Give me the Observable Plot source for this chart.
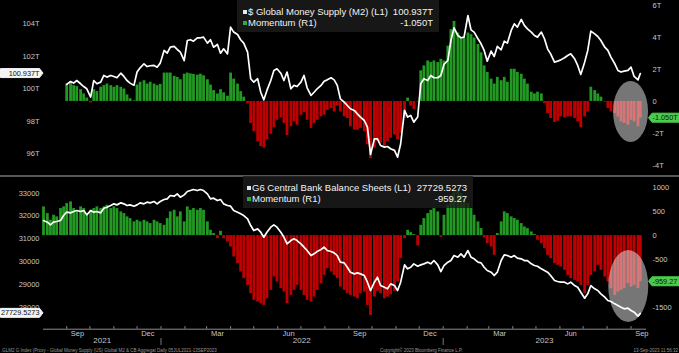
<!DOCTYPE html>
<html>
<head>
<meta charset="utf-8">
<script src="https://cdn.jsdelivr.net/npm/d3@7"></script>
<script src="https://cdn.jsdelivr.net/npm/@observablehq/plot@0.6"></script>
<style>
  html, body { margin: 0; padding: 0; background: #000; }
  #chart { position: relative; width: 679px; height: 353px; background: #000; overflow: hidden; font-family: "Liberation Sans", Arial, sans-serif; }
  #chart > svg { position: absolute; left: 0; }
  .legend { position: absolute; background: rgba(28,28,28,0.82); color: #f2f2f2; font-size: 9.5px; line-height: 11px; box-sizing: border-box; }
  .legend .row { display: flex; justify-content: space-between; white-space: nowrap; }
  .legend .sw { display: inline-block; width: 4px; height: 4px; margin-right: 1px; vertical-align: 1px; }
  .sep { position: absolute; left: 0; width: 679px; top: 175px; height: 1.5px; background: #585858; }
  .foot { position: absolute; top: 347.5px; font-size: 4.5px; line-height: 5px; color: #9a9a9a; white-space: nowrap; }
</style>
</head>
<body>
<div id="chart"></div>
<script>
// ---------------- data ----------------
const dates = [
"2021-08-02","2021-08-07","2021-08-11","2021-08-15","2021-08-19","2021-08-24","2021-08-28",
"2021-09-01","2021-09-06","2021-09-10","2021-09-14","2021-09-19","2021-09-23","2021-09-27",
"2021-10-02","2021-10-06","2021-10-10","2021-10-15","2021-10-19","2021-10-23","2021-10-28",
"2021-11-01","2021-11-05","2021-11-10","2021-11-14","2021-11-18","2021-11-22","2021-11-27",
"2021-12-01","2021-12-05","2021-12-10","2021-12-14","2021-12-18","2021-12-23","2021-12-27","2021-12-31",
"2022-01-05","2022-01-09","2022-01-13","2022-01-18","2022-01-22","2022-01-26","2022-01-31",
"2022-02-04","2022-02-08","2022-02-12","2022-02-17","2022-02-21","2022-02-25",
"2022-03-02","2022-03-06","2022-03-10","2022-03-15","2022-03-19","2022-03-23","2022-03-28",
"2022-04-01","2022-04-05","2022-04-10","2022-04-14","2022-04-18","2022-04-23","2022-04-27",
"2022-05-01","2022-05-06","2022-05-10","2022-05-14","2022-05-18","2022-05-23","2022-05-27","2022-05-31",
"2022-06-05","2022-06-09","2022-06-13","2022-06-18","2022-06-22","2022-06-26",
"2022-07-01","2022-07-05","2022-07-09","2022-07-14","2022-07-18","2022-07-22","2022-07-27","2022-07-31",
"2022-08-04","2022-08-09","2022-08-13","2022-08-17","2022-08-21","2022-08-26","2022-08-30",
"2022-09-03","2022-09-08","2022-09-12","2022-09-16","2022-09-21","2022-09-25","2022-09-29",
"2022-10-04","2022-10-08","2022-10-12","2022-10-17","2022-10-21","2022-10-25","2022-10-30",
"2022-11-03","2022-11-07","2022-11-12","2022-11-16","2022-11-20","2022-11-24","2022-11-29",
"2022-12-03","2022-12-07","2022-12-12","2022-12-16","2022-12-20","2022-12-25","2022-12-29",
"2023-01-02","2023-01-07","2023-01-11","2023-01-15","2023-01-20","2023-01-24","2023-01-28",
"2023-02-02","2023-02-06","2023-02-10","2023-02-15","2023-02-19","2023-02-23","2023-02-27",
"2023-03-04","2023-03-08","2023-03-12","2023-03-17","2023-03-21","2023-03-25","2023-03-30",
"2023-04-03","2023-04-07","2023-04-12","2023-04-16","2023-04-20","2023-04-25","2023-04-29",
"2023-05-03","2023-05-08","2023-05-12","2023-05-16","2023-05-20","2023-05-25","2023-05-29",
"2023-06-02","2023-06-07","2023-06-11","2023-06-15","2023-06-20","2023-06-24","2023-06-28",
"2023-07-03","2023-07-07","2023-07-11","2023-07-16","2023-07-20","2023-07-24","2023-07-29",
"2023-08-02","2023-08-06","2023-08-11","2023-08-15","2023-08-19","2023-08-23","2023-08-28",
"2023-09-01","2023-09-05","2023-09-10","2023-09-13"
];

// $ Global Money Supply (M2), trillions (L1)
const m2Supply = [
null,null,null,null,null,null,null,
100.27,100.45,100.35,100.51,100.31,100.14,100.00,99.49,100.51,100.31,
100.41,100.82,100.72,100.82,100.76,100.68,100.96,100.76,100.51,100.35,
100.21,101.03,101.29,101.54,101.37,101.42,101.44,101.33,101.58,102.36,
102.19,102.56,102.61,102.42,102.26,101.74,102.97,103.02,102.93,103.14,
103.14,103.18,102.81,103.02,102.56,102.73,102.19,102.46,102.15,103.79,
103.49,103.34,103.02,102.81,102.26,100.62,100.41,100.62,99.79,99.32,
99.90,100.51,101.13,101.23,100.96,100.51,101.03,100.00,100.21,100.14,
100.41,100.82,100.06,99.59,99.79,100.00,100.21,100.47,100.55,100.68,
100.55,100.21,
99.38,99.18,98.97,98.77,98.67,98.46,98.26,98.05,97.64,95.96,
96.92,96.92,96.51,96.41,96.45,96.31,96.21,95.79,96.62,98.67,
98.26,98.36,97.95,98.26,100.31,100.62,100.51,100.82,100.68,100.68,
100.82,101.50,101.74,102.97,103.75,103.28,103.14,103.18,104.51,103.63,
103.49,103.08,102.77,102.36,101.70,102.32,101.99,102.61,102.40,102.93,
102.81,103.59,104.00,103.79,104.27,103.90,103.69,103.49,103.28,103.18,
103.49,103.08,102.46,102.15,101.64,101.70,101.78,101.91,102.05,102.15,
101.85,101.44,100.88,101.64,102.36,103.55,103.38,103.22,102.97,102.56,
102.36,101.95,101.54,101.13,101.03,101.09,101.13,101.33,100.76,100.55,
100.937
];

// Momentum of M2, trillions (R1)
const m2Momentum = [
null,null,null,null,null,null,null,
1.09,1.20,0.99,0.93,0.74,0.47,0.21,-0.10,0.74,0.62,
0.89,0.99,1.09,0.99,0.89,0.99,0.89,0.78,0.41,0.17,
0.04,1.03,1.20,1.30,1.09,1.20,1.09,0.99,1.07,1.78,
1.78,1.78,1.57,1.51,1.36,1.71,1.78,1.73,1.69,1.65,
1.71,1.61,1.36,1.03,0.68,0.47,0.74,0.54,0.33,1.78,
1.40,1.09,0.62,0.27,-0.14,-1.38,-1.90,-2.52,-2.83,-2.93,
-2.41,-2.06,-1.65,-1.18,-1.03,-1.38,-2.15,-1.59,-1.28,-1.49,
-0.87,-0.70,-1.18,-1.69,-1.38,-1.18,-0.97,-0.87,-0.56,-0.45,
-0.66,-0.29,
-0.66,-0.97,-1.07,-1.59,-1.80,-1.80,-1.69,-1.90,-2.72,-3.59,
-2.93,-2.52,-2.62,-2.83,-2.52,-2.31,-2.11,-2.41,-2.00,-1.07,
0.21,-0.29,-0.50,-0.04,1.92,2.23,2.54,2.44,2.54,2.44,
2.64,2.54,3.47,4.50,5.02,4.29,3.98,3.98,4.29,4.19,
3.98,3.57,3.05,2.23,1.82,1.40,1.09,1.51,1.30,1.51,
1.20,2.02,2.02,1.82,1.71,1.40,1.09,0.58,0.47,0.58,
0.47,-0.14,-0.76,-1.07,-1.32,-1.24,-0.97,-1.03,-0.97,-0.97,
-1.07,-1.28,-1.65,-0.97,-0.66,0.89,0.68,0.47,0.27,-0.05,
-0.45,-0.66,-0.76,-0.97,-1.28,-1.38,-1.49,-1.18,-1.28,-1.59,
-1.050
];

// G6 Central Bank Balance Sheets (L1)
const g6Sheets = [
31801,31728,31611,31728,31757,31801,32021,32167,32137,32196,
32240,32196,32240,32050,32240,32167,32196,32137,32342,32386,
32459,32532,32488,32576,32532,32459,32488,32430,32488,32576,
32532,32605,32576,32634,32532,32634,32722,32752,32898,32868,
32971,32825,32927,33073,33117,33161,33117,33161,33117,32971,
32752,32781,32678,32722,32532,32459,32430,32240,32167,32094,
32021,31874,31582,31363,31436,31290,31070,31290,31509,31611,
31509,31290,31070,30778,30924,30997,30924,30778,30632,30485,
30266,30339,30442,30529,30632,30485,30442,30383,30266,
29974,29944,29754,29535,29462,29506,29462,29389,29097,28731,
29097,29316,28950,28877,28804,29023,28950,28731,29097,29857,
29681,29754,29901,29798,29857,29901,29974,29901,30047,29857,
29564,29828,29974,30047,30266,30193,30339,30193,30485,30193,
30120,29974,29944,29754,29608,29535,29389,29535,30047,30295,
30266,30193,30266,30149,30120,30047,30047,29901,29828,29798,
29681,29608,29535,29389,29170,29126,29097,29097,29023,29097,
28950,28877,28658,28395,28585,28950,28804,28731,28585,28439,
28292,28249,28146,28073,28000,27927,27956,27854,27781,27605,
27729.5273
];

// Momentum of G6 balance sheets (R1)
const g6Momentum = [
597,458,319,423,389,562,597,666,701,562,
493,597,562,423,527,562,597,562,597,632,
562,597,562,493,458,389,354,285,319,285,
319,285,250,319,285,250,215,354,493,527,
389,493,285,597,527,562,527,562,527,285,
111,42,-62,90,-62,-132,-236,-444,-583,-756,
-895,-1035,-1208,-1346,-1381,-1416,-1451,-1312,-1138,-861,
-965,-1103,-1173,-1416,-1242,-1138,-1035,-1138,-1242,-1346,
-1381,-1277,-1138,-999,-826,-687,-756,-826,-895,
-1069,-1138,-1208,-1242,-1277,-1312,-1208,-1173,-1451,-1659,
-1277,-1159,-1208,-1312,-1277,-1228,-1159,-965,-479,-62,
111,62,21,-215,215,354,458,527,562,493,
-35,423,632,840,909,944,874,770,666,562,
423,285,146,-49,-167,-236,-409,42,285,493,
458,389,354,319,250,180,146,76,21,-97,
-167,-271,-409,-479,-583,-618,-652,-722,-826,-895,
-930,-965,-1035,-1208,-1035,-826,-756,-618,-722,-861,
-965,-1103,-1242,-1173,-1138,-1103,-999,-1069,-1035,-1103,
-959.27
];

// tick labels
const m2Ticks = [96, 98, 100, 102, 104];
const m2MomTicks = [-4, -2, 0, 2, 4, 6];
const g6Ticks = [28000, 29000, 30000, 31000, 32000, 33000];
const g6MomTicks = [-1500, -500, 0, 500, 1000];
const monthLabels = ["2021-09-15","2021-12-15","2022-03-15","2022-06-15","2022-09-15","2022-12-15","2023-03-15","2023-06-15","2023-09-15"];
const yearLabels = [{date: "2021-10-17", label: "2021"}, {date: "2022-07-02", label: "2022"}, {date: "2023-05-12", label: "2023"}];
const yearStarts = ["2022-01-01", "2023-01-01"];

// highlighted regions (centre in data terms)
const topHighlight = {date: "2023-09-01", value: -0.66};
const bottomHighlight = {date: "2023-08-29", value: -1056};

// ---------------- drawing ----------------
const W = 679, ML = 43, MR = 33;
const xDomain = [new Date("2021-08-02"), new Date("2023-09-21")];
const axisColor = "#c6c6c6";
const green = "#229922", red = "#c00000", tagGreen = "#4ccc4c";
const font = '"Liberation Sans", Arial, sans-serif';

const rows = dates.map((d, i) => ({
  date: new Date(d), m2: m2Supply[i], m2Mom: m2Momentum[i], cb: g6Sheets[i], cbMom: g6Momentum[i]
}));

function base(height, mt, mb) {
  return {
    width: W, height, marginLeft: ML, marginRight: MR, marginTop: mt, marginBottom: mb,
    style: {background: "transparent", color: axisColor, fontFamily: font, fontSize: "7.5px", overflow: "visible"}
  };
}
function bars(key) {
  return [
    Plot.ruleX(rows.filter(d => d[key] != null && d[key] >= 0), {x: "date", y1: 0, y2: key, stroke: green, strokeWidth: 2.8}),
    Plot.ruleX(rows.filter(d => d[key] != null && d[key] < 0), {x: "date", y1: 0, y2: key, stroke: red, strokeWidth: 2.8})
  ];
}
function highlight(plot, h, rx, ry) {
  const cx = plot.scale("x").apply(new Date(h.date));
  const cy = plot.scale("y").apply(h.value);
  d3.select(plot).append("ellipse")
    .attr("cx", cx).attr("cy", cy).attr("rx", rx).attr("ry", ry)
    .attr("fill", "#ececec").attr("fill-opacity", 0.5);
}
function tag(plot, side, value, text, fill) {
  const y = plot.scale("y").apply(value);
  const h = 9, g = d3.select(plot).append("g");
  let d;
  if (side === "left") d = `M0.5,${y - h/2} H39.5 L43,${y} L39.5,${y + h/2} H0.5 Z`;
  else d = `M679,${y - h/2} H652 L648.5,${y} L652,${y + h/2} H679 Z`;
  g.append("path").attr("d", d).attr("fill", fill).attr("stroke", fill).attr("stroke-width", 1).attr("stroke-linejoin", "round");
  g.append("text").attr("x", side === "left" ? 39.5 : 652.5).attr("y", y)
    .attr("dy", "0.35em").attr("text-anchor", side === "left" ? "end" : "start")
    .attr("fill", "#111").attr("font-size", 7.3).attr("font-family", font).text(text);
}

const chart = document.getElementById("chart");

// ---- top panel ----
const topBars = Plot.plot({
  ...base(175, 5.3, 10.3),
  x: {type: "utc", domain: xDomain, axis: null},
  y: {domain: [-4, 6]},
  marks: [
    ...bars("m2Mom"),
    Plot.axisY({anchor: "right", ticks: m2MomTicks, tickFormat: d => d === 0 ? "0" : `${d}T`, tickSize: 0, tickPadding: 6, label: null})
  ]
});
topBars.style.top = "0px";
highlight(topBars, topHighlight, 17.5, 30.5);
tag(topBars, "right", m2Momentum[m2Momentum.length - 1], m2Momentum[m2Momentum.length - 1].toFixed(3) + "T", tagGreen);
chart.appendChild(topBars);

const topLine = Plot.plot({
  ...base(175, 23.3, 21.7),
  x: {type: "utc", domain: xDomain, axis: null},
  y: {domain: [96, 104]},
  marks: [
    Plot.lineY(rows.filter(d => d.m2 != null), {x: "date", y: "m2", stroke: "#ffffff", strokeWidth: 1.7}),
    Plot.axisY({anchor: "left", ticks: m2Ticks, tickFormat: d => `${d}T`, tickSize: 0, tickPadding: 4, label: null})
  ]
});
topLine.style.top = "0px";
tag(topLine, "left", m2Supply[m2Supply.length - 1], m2Supply[m2Supply.length - 1].toFixed(3) + "T", "#f4f4f4");
chart.appendChild(topLine);

const sep = document.createElement("div"); sep.className = "sep"; chart.appendChild(sep);

// ---- bottom panel ----
const momDomain = [-1945, 1000];
const bottomBars = Plot.plot({
  ...base(177, 11, 24.3),
  x: {type: "utc", domain: xDomain},
  y: {domain: momDomain},
  marks: [
    ...bars("cbMom"),
    Plot.axisY({anchor: "right", ticks: g6MomTicks, tickFormat: d => String(d), tickSize: 0, tickPadding: 6, label: null}),
    Plot.ruleY([momDomain[0]], {stroke: "#8c8c8c", strokeWidth: 1}),
    Plot.tickX(d3.utcMonth.range(xDomain[0], xDomain[1]), {x: d => d, insetTop: 139.2, stroke: "#8c8c8c"}),
    Plot.axisX({ticks: monthLabels.map(d => new Date(d)), tickFormat: d3.utcFormat("%b"), tickSize: 0, tickPadding: 1.5, label: null}),
    Plot.text(yearLabels, {x: d => new Date(d.date), text: "label", frameAnchor: "bottom", dy: 13.5, fill: axisColor, fontSize: 8}),
    Plot.tickX(yearStarts, {x: d => new Date(d), insetTop: 134.7, dy: 16.3, stroke: "#777"})
  ]
});
bottomBars.style.top = "176px";
highlight(bottomBars, bottomHighlight, 20, 36);
tag(bottomBars, "right", g6Momentum[g6Momentum.length - 1], String(g6Momentum[g6Momentum.length - 1]), tagGreen);
chart.appendChild(bottomBars);

const bottomLine = Plot.plot({
  ...base(177, 16.7, 46.3),
  x: {type: "utc", domain: xDomain, axis: null},
  y: {domain: [28000, 33000]},
  marks: [
    Plot.lineY(rows, {x: "date", y: "cb", stroke: "#ffffff", strokeWidth: 1.7}),
    Plot.axisY({anchor: "left", ticks: g6Ticks, tickFormat: d => String(d), tickSize: 0, tickPadding: 4, label: null})
  ]
});
bottomLine.style.top = "176px";
tag(bottomLine, "left", g6Sheets[g6Sheets.length - 1], String(g6Sheets[g6Sheets.length - 1]), "#f4f4f4");
chart.appendChild(bottomLine);

// ---- legends ----
function legend(left, top, width, padL, padTop, items) {
  const div = document.createElement("div");
  div.className = "legend";
  Object.assign(div.style, {left: left + "px", top: top + "px", width: width + "px", height: "32px", padding: `${padTop}px 6px 0 ${padL}px`});
  div.innerHTML = items.map(it =>
    `<div class="row"><span><span class="sw" style="background:${it.color}"></span>${it.label}</span><span>${it.value}</span></div>`).join("");
  chart.appendChild(div);
}
legend(237, 0, 202, 6, 5.5, [
  {color: "#e8e8e8", label: "$ Global Money Supply (M2) (L1)", value: m2Supply[m2Supply.length - 1].toFixed(3) + "T"},
  {color: "#2fae2f", label: "Momentum (R1)", value: m2Momentum[m2Momentum.length - 1].toFixed(3) + "T"}
]);
legend(243, 176, 230, 4, 6.2, [
  {color: "#e8e8e8", label: "G6 Central Bank Balance Sheets (L1)", value: String(g6Sheets[g6Sheets.length - 1])},
  {color: "#2fae2f", label: "Momentum (R1)", value: String(g6Momentum[g6Momentum.length - 1])}
]);

// ---- footer ----
function foot(left, text, right) {
  const d = document.createElement("div");
  d.className = "foot";
  if (right) d.style.right = "1px"; else d.style.left = left + "px";
  d.textContent = text;
  chart.appendChild(d);
}
foot(1, ".GLM2 G Index (Proxy - Global Money Supply (US) Global M2 & CB Aggregat   Daily 05JUL2021-13SEP2023");
foot(380, "Copyright\u00a9 2023 Bloomberg Finance L.P.");
foot(0, "13-Sep-2023 11:56:32", true);
</script>
</body>
</html>
